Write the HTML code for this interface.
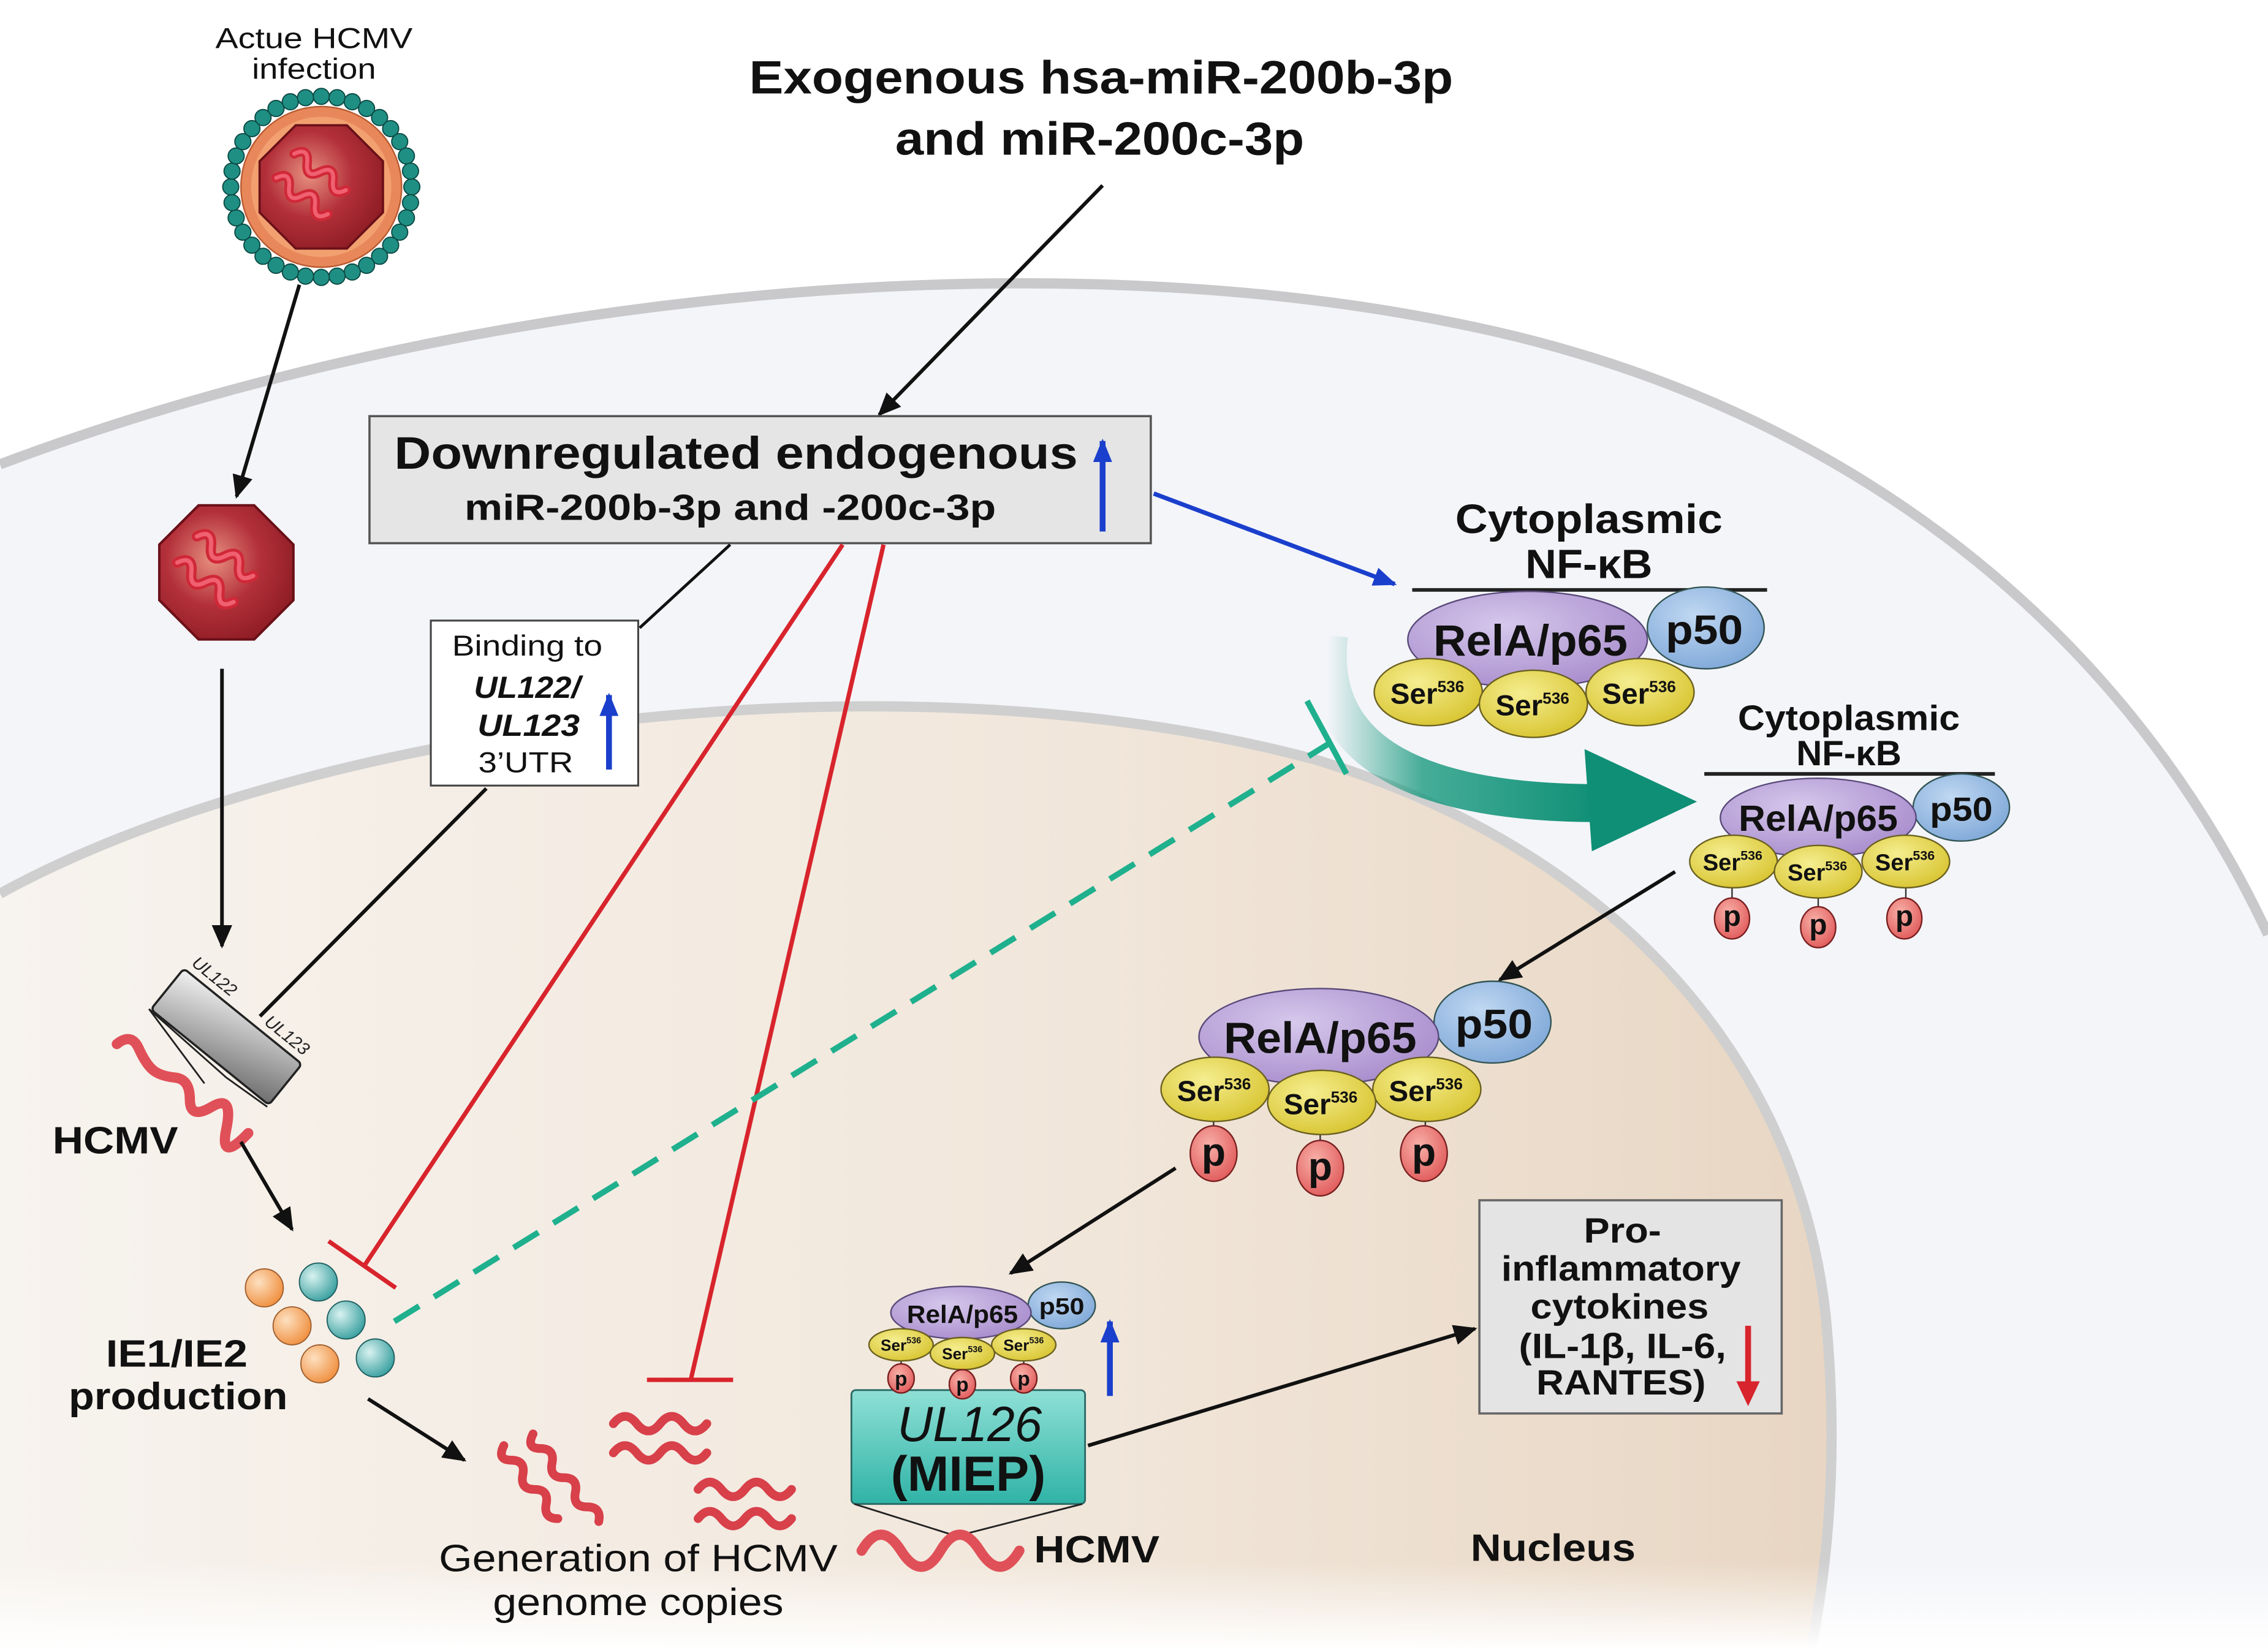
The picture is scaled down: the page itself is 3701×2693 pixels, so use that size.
<!DOCTYPE html>
<html><head><meta charset="utf-8"><style>html,body{margin:0;padding:0;background:#fff}svg{display:block}</style></head>
<body>
<svg xmlns="http://www.w3.org/2000/svg" width="3701" height="2693" viewBox="0 0 1553 1130" preserveAspectRatio="none" font-family="Liberation Sans, Arial, sans-serif">
<defs>
<linearGradient id="nuc" x1="0" y1="0" x2="1" y2="0"><stop offset="0" stop-color="#f7f3ee"/><stop offset="0.6" stop-color="#f1e6da"/><stop offset="1" stop-color="#e8d6c3"/></linearGradient>
<linearGradient id="fade" x1="0" y1="0" x2="0" y2="1"><stop offset="0" stop-color="#fff" stop-opacity="0"/><stop offset="1" stop-color="#fff" stop-opacity="1"/></linearGradient>
<linearGradient id="gene" x1="0" y1="0" x2="1" y2="1"><stop offset="0" stop-color="#f2f2f2"/><stop offset="1" stop-color="#6e6e6e"/></linearGradient>
<linearGradient id="box126" x1="0" y1="0" x2="0" y2="1"><stop offset="0" stop-color="#8fe0d6"/><stop offset="1" stop-color="#2fb3a6"/></linearGradient>
<linearGradient id="garr" x1="0" y1="0" x2="1" y2="0"><stop offset="0" stop-color="#1a9a80" stop-opacity="0"/><stop offset="0.35" stop-color="#1a9a80" stop-opacity="0.8"/><stop offset="1" stop-color="#0f8f75"/></linearGradient>
<radialGradient id="oct" cx="0.4" cy="0.4" r="0.7"><stop offset="0" stop-color="#e89080"/><stop offset="0.5" stop-color="#b3303a"/><stop offset="1" stop-color="#8a1a22"/></radialGradient>
<radialGradient id="purp" cx="0.4" cy="0.35" r="0.7"><stop offset="0" stop-color="#d6c8ec"/><stop offset="1" stop-color="#a88ccc"/></radialGradient>
<radialGradient id="blue" cx="0.4" cy="0.35" r="0.7"><stop offset="0" stop-color="#c0d8f2"/><stop offset="1" stop-color="#7fa8d8"/></radialGradient>
<radialGradient id="yel" cx="0.4" cy="0.35" r="0.7"><stop offset="0" stop-color="#f5ee90"/><stop offset="1" stop-color="#d8c430"/></radialGradient>
<radialGradient id="red" cx="0.4" cy="0.35" r="0.7"><stop offset="0" stop-color="#f8b0a8"/><stop offset="1" stop-color="#e05a5a"/></radialGradient>
<radialGradient id="orb" cx="0.35" cy="0.35" r="0.7"><stop offset="0" stop-color="#fde0c0"/><stop offset="1" stop-color="#f09040"/></radialGradient>
<radialGradient id="tb" cx="0.35" cy="0.35" r="0.7"><stop offset="0" stop-color="#d8f2f0"/><stop offset="1" stop-color="#3aa0a0"/></radialGradient>
<marker id="ak" viewBox="0 0 10 10" refX="9" refY="5" markerWidth="16" markerHeight="14" orient="auto" markerUnits="userSpaceOnUse" preserveAspectRatio="none"><path d="M0,0 L10,5 L0,10 z" fill="#111"/></marker>
<marker id="ab" viewBox="0 0 10 10" refX="9" refY="5" markerWidth="16" markerHeight="13" orient="auto" markerUnits="userSpaceOnUse" preserveAspectRatio="none"><path d="M0,0 L10,5 L0,10 z" fill="#1a3fcc"/></marker>
<g id="sq"><path d="M0,0 q5,-9 10,0 t10,0 t10,0 t10,0" fill="none" stroke="#d02838" stroke-width="6" stroke-linecap="round"/><path d="M0,0 q5,-9 10,0 t10,0 t10,0 t10,0" fill="none" stroke="#f06070" stroke-width="2.5" stroke-linecap="round"/></g>
<g id="octo"><polygon points="-17,-41 17,-41 41,-17 41,17 17,41 -17,41 -41,17 -41,-17" fill="url(#oct)" stroke="#6a1018" stroke-width="1.5"/><use href="#sq" transform="translate(-18,-22) rotate(35) scale(1.05)"/><use href="#sq" transform="translate(-30,-6) rotate(35) scale(1.05)"/></g>
</defs>

<!-- cell -->
<path d="M0,318 C300,205 700,160 1000,222 C1250,272 1450,420 1553,640 L1553,1130 L0,1130 Z" fill="#f4f5f9"/>
<path d="M0,318 C300,205 700,160 1000,222 C1250,272 1450,420 1553,640" fill="none" stroke="#c9c9cb" stroke-width="7"/>
<!-- nucleus -->
<path d="M0,612 C200,502 600,440 900,520 C1100,580 1230,720 1250,900 C1260,1000 1250,1080 1240,1130 L0,1130 Z" fill="url(#nuc)"/>
<path d="M0,612 C200,502 600,440 900,520 C1100,580 1230,720 1250,900 C1260,1000 1250,1080 1240,1130" fill="none" stroke="#cfcfcf" stroke-width="7"/>
<rect x="0" y="1070" width="1553" height="60" fill="url(#fade)"/>

<!-- virion -->
<text x="215" y="33" font-size="20" text-anchor="middle" textLength="135" lengthAdjust="spacingAndGlyphs" fill="#111">Actue HCMV</text>
<text x="215" y="54" font-size="20" text-anchor="middle" textLength="85" lengthAdjust="spacingAndGlyphs" fill="#111">infection</text>
<g transform="translate(220,128)">
<g fill="#1f8f84" stroke="#0c4a44" stroke-width="0.8">
<circle cx="62" cy="0" r="5.5"/><circle cx="61.1" cy="10.8" r="5.5"/><circle cx="58.3" cy="21.2" r="5.5"/><circle cx="53.7" cy="31" r="5.5"/><circle cx="47.5" cy="39.9" r="5.5"/><circle cx="39.9" cy="47.5" r="5.5"/><circle cx="31" cy="53.7" r="5.5"/><circle cx="21.2" cy="58.3" r="5.5"/><circle cx="10.8" cy="61.1" r="5.5"/><circle cx="0" cy="62" r="5.5"/><circle cx="-10.8" cy="61.1" r="5.5"/><circle cx="-21.2" cy="58.3" r="5.5"/><circle cx="-31" cy="53.7" r="5.5"/><circle cx="-39.9" cy="47.5" r="5.5"/><circle cx="-47.5" cy="39.9" r="5.5"/><circle cx="-53.7" cy="31" r="5.5"/><circle cx="-58.3" cy="21.2" r="5.5"/><circle cx="-61.1" cy="10.8" r="5.5"/><circle cx="-62" cy="0" r="5.5"/><circle cx="-61.1" cy="-10.8" r="5.5"/><circle cx="-58.3" cy="-21.2" r="5.5"/><circle cx="-53.7" cy="-31" r="5.5"/><circle cx="-47.5" cy="-39.9" r="5.5"/><circle cx="-39.9" cy="-47.5" r="5.5"/><circle cx="-31" cy="-53.7" r="5.5"/><circle cx="-21.2" cy="-58.3" r="5.5"/><circle cx="-10.8" cy="-61.1" r="5.5"/><circle cx="0" cy="-62" r="5.5"/><circle cx="10.8" cy="-61.1" r="5.5"/><circle cx="21.2" cy="-58.3" r="5.5"/><circle cx="31" cy="-53.7" r="5.5"/><circle cx="39.9" cy="-47.5" r="5.5"/><circle cx="47.5" cy="-39.9" r="5.5"/><circle cx="53.7" cy="-31" r="5.5"/><circle cx="58.3" cy="-21.2" r="5.5"/><circle cx="61.1" cy="-10.8" r="5.5"/>
</g>
<circle r="55" fill="#e8885a" stroke="#b85a30" stroke-width="1"/>
<circle r="48" fill="#f2a070"/>
<use href="#octo" transform="scale(1.03)"/>
</g>
<line x1="205" y1="195" x2="162" y2="340" stroke="#111" stroke-width="2.5" marker-end="url(#ak)"/>
<use href="#octo" transform="translate(155,392) scale(1.12)"/>
<line x1="152" y1="458" x2="152" y2="648" stroke="#111" stroke-width="2.5" marker-end="url(#ak)"/>

<!-- gene -->
<line x1="333" y1="540" x2="178" y2="696" stroke="#111" stroke-width="2.5"/>
<g transform="translate(155,710) rotate(39)">
<rect x="-52" y="-18" width="104" height="36" rx="3" fill="url(#gene)" stroke="#222" stroke-width="1.5"/>
<text x="-50" y="-23" font-size="12" font-style="italic" fill="#222">UL122</text>
<text x="14" y="-23" font-size="12" font-style="italic" fill="#222">UL123</text>
</g>
<path d="M102,691 L155,738 L183,758 M102,691 L140,742" fill="none" stroke="#222" stroke-width="1.2"/>
<path d="M80,715 q10,-8 15,3 t10,15 t15,5 t10,15 t15,5 t10,15 t15,3" fill="none" stroke="#e05058" stroke-width="7" stroke-linecap="round"/>
<text x="36" y="790" font-size="26" font-weight="bold" textLength="86" lengthAdjust="spacingAndGlyphs" fill="#111">HCMV</text>
<line x1="165" y1="782" x2="200" y2="842" stroke="#111" stroke-width="2.5" marker-end="url(#ak)"/>

<!-- IE balls -->
<circle cx="181" cy="882" r="13" fill="url(#orb)" stroke="#a06030" stroke-width="0.8"/>
<circle cx="200" cy="908" r="13" fill="url(#orb)" stroke="#a06030" stroke-width="0.8"/>
<circle cx="219" cy="934" r="13" fill="url(#orb)" stroke="#a06030" stroke-width="0.8"/>
<circle cx="218" cy="878" r="13" fill="url(#tb)" stroke="#206060" stroke-width="0.8"/>
<circle cx="237" cy="904" r="13" fill="url(#tb)" stroke="#206060" stroke-width="0.8"/>
<circle cx="257" cy="930" r="13" fill="url(#tb)" stroke="#206060" stroke-width="0.8"/>
<text x="121" y="936" font-size="26" font-weight="bold" text-anchor="middle" textLength="97" lengthAdjust="spacingAndGlyphs" fill="#111">IE1/IE2</text>
<text x="122" y="965" font-size="26" font-weight="bold" text-anchor="middle" textLength="150" lengthAdjust="spacingAndGlyphs" fill="#111">production</text>
<line x1="252" y1="958" x2="318" y2="1000" stroke="#111" stroke-width="2.5" marker-end="url(#ak)"/>

<!-- genome copies -->
<g fill="none" stroke="#d8404a" stroke-width="6" stroke-linecap="round">
<path d="M345,990 q-5,10 5,10 t8,10 t8,10 t8,10 t8,10"/>
<path d="M365,982 q-5,10 5,10 t8,10 t8,10 t8,10 t8,10 t8,10"/>
<path d="M420,975 q8,-10 16,0 t16,0 t16,0 t16,0"/>
<path d="M420,995 q8,-10 16,0 t16,0 t16,0 t16,0"/>
<path d="M478,1020 q8,-10 16,0 t16,0 t16,0 t16,0"/>
<path d="M478,1040 q8,-10 16,0 t16,0 t16,0 t16,0"/>
</g>
<text x="437" y="1076" font-size="26" text-anchor="middle" textLength="273" lengthAdjust="spacingAndGlyphs" fill="#111">Generation of HCMV</text>
<text x="437" y="1106" font-size="26" text-anchor="middle" textLength="199" lengthAdjust="spacingAndGlyphs" fill="#111">genome copies</text>

<!-- title -->
<text x="754" y="64" font-size="32" font-weight="bold" text-anchor="middle" textLength="482" lengthAdjust="spacingAndGlyphs" fill="#111">Exogenous hsa-miR-200b-3p</text>
<text x="753" y="106" font-size="32" font-weight="bold" text-anchor="middle" textLength="280" lengthAdjust="spacingAndGlyphs" fill="#111">and miR-200c-3p</text>
<line x1="755" y1="127" x2="602" y2="284" stroke="#111" stroke-width="2.5" marker-end="url(#ak)"/>

<!-- main box -->
<rect x="253" y="285" width="535" height="87" fill="#e5e5e5" stroke="#555" stroke-width="1.5"/>
<text x="504" y="321" font-size="31" font-weight="bold" text-anchor="middle" textLength="468" lengthAdjust="spacingAndGlyphs" fill="#111">Downregulated endogenous</text>
<text x="500" y="356" font-size="25" font-weight="bold" text-anchor="middle" textLength="364" lengthAdjust="spacingAndGlyphs" fill="#111">miR-200b-3p and -200c-3p</text>
<line x1="755" y1="364" x2="755" y2="302" stroke="#1a3fcc" stroke-width="4" marker-end="url(#ab)"/>

<!-- binding box -->
<line x1="500" y1="373" x2="438" y2="430" stroke="#111" stroke-width="2"/>
<rect x="295" y="425" width="142" height="113" fill="#fff" stroke="#444" stroke-width="1.3"/>
<text x="361" y="449" font-size="20" text-anchor="middle" textLength="103" lengthAdjust="spacingAndGlyphs" fill="#111">Binding to</text>
<text x="361" y="478" font-size="21" font-weight="bold" font-style="italic" text-anchor="middle" textLength="73" lengthAdjust="spacingAndGlyphs" fill="#111">UL122/</text>
<text x="362" y="504" font-size="21" font-weight="bold" font-style="italic" text-anchor="middle" textLength="70" lengthAdjust="spacingAndGlyphs" fill="#111">UL123</text>
<text x="360" y="529" font-size="20" text-anchor="middle" textLength="65" lengthAdjust="spacingAndGlyphs" fill="#111">3’UTR</text>
<line x1="417" y1="527" x2="417" y2="476" stroke="#1a3fcc" stroke-width="4" marker-end="url(#ab)"/>

<!-- red inhibitors -->
<g stroke="#d8242c" stroke-width="3" fill="none">
<line x1="577" y1="373" x2="250" y2="866"/>
<line x1="225" y1="850" x2="271" y2="882"/>
<path d="M605,373 L473,945"/>
<line x1="443" y1="945" x2="502" y2="945"/>
</g>

<!-- teal dashed -->
<line x1="270" y1="905" x2="912" y2="508" stroke="#1fb08e" stroke-width="4" stroke-dasharray="20,12"/>
<line x1="895" y1="480" x2="922" y2="530" stroke="#1fb08e" stroke-width="4"/>

<!-- blue arrow -->
<line x1="790" y1="338" x2="955" y2="400" stroke="#1a3fcc" stroke-width="3" marker-end="url(#ab)"/>

<!-- green curved arrow -->
<path d="M910,435 C900,520 980,550 1095,550" fill="none" stroke="url(#garr)" stroke-width="26"/>
<polygon points="1085,513 1162,549 1090,583" fill="#0f8f75"/>

<!-- NF-kB complex 1 -->
<text x="1088" y="365" font-size="28" font-weight="bold" text-anchor="middle" textLength="183" lengthAdjust="spacingAndGlyphs" fill="#111">Cytoplasmic</text>
<text x="1088" y="396" font-size="28" font-weight="bold" text-anchor="middle" textLength="87" lengthAdjust="spacingAndGlyphs" fill="#111">NF-κB</text>
<line x1="967" y1="404" x2="1210" y2="404" stroke="#222" stroke-width="2.5"/>
<ellipse cx="1168" cy="430" rx="40" ry="28" fill="url(#blue)" stroke="#355" stroke-width="1"/>
<ellipse cx="1046" cy="438" rx="82" ry="33" fill="url(#purp)" stroke="#5a4a7a" stroke-width="1"/>
<text x="1167" y="441" font-size="28" font-weight="bold" text-anchor="middle" textLength="53" lengthAdjust="spacingAndGlyphs" fill="#111">p50</text>
<text x="1048" y="449" font-size="30" font-weight="bold" text-anchor="middle" textLength="133" lengthAdjust="spacingAndGlyphs" fill="#111">RelA/p65</text>
<g font-weight="bold" fill="#111">
<ellipse cx="978" cy="474" rx="37" ry="23" fill="url(#yel)" stroke="#6a6020" stroke-width="1"/>
<ellipse cx="1123" cy="474" rx="37" ry="23" fill="url(#yel)" stroke="#6a6020" stroke-width="1"/>
<ellipse cx="1050" cy="482" rx="37" ry="23" fill="url(#yel)" stroke="#6a6020" stroke-width="1"/>
<text x="952" y="482" font-size="20">Ser<tspan font-size="11" dy="-8">536</tspan></text>
<text x="1024" y="490" font-size="20">Ser<tspan font-size="11" dy="-8">536</tspan></text>
<text x="1097" y="482" font-size="20">Ser<tspan font-size="11" dy="-8">536</tspan></text>
</g>

<!-- NF-kB complex 2 -->
<text x="1266" y="500" font-size="24" font-weight="bold" text-anchor="middle" textLength="152" lengthAdjust="spacingAndGlyphs" fill="#111">Cytoplasmic</text>
<text x="1266" y="524" font-size="24" font-weight="bold" text-anchor="middle" textLength="72" lengthAdjust="spacingAndGlyphs" fill="#111">NF-κB</text>
<line x1="1167" y1="530" x2="1366" y2="530" stroke="#222" stroke-width="2.5"/>
<ellipse cx="1343" cy="553" rx="33" ry="23" fill="url(#blue)" stroke="#355" stroke-width="1"/>
<ellipse cx="1245" cy="560" rx="67" ry="27" fill="url(#purp)" stroke="#5a4a7a" stroke-width="1"/>
<text x="1343" y="562" font-size="23" font-weight="bold" text-anchor="middle" textLength="43" lengthAdjust="spacingAndGlyphs" fill="#111">p50</text>
<text x="1245" y="569" font-size="25" font-weight="bold" text-anchor="middle" textLength="109" lengthAdjust="spacingAndGlyphs" fill="#111">RelA/p65</text>
<g stroke="#333" stroke-width="1"><line x1="1186" y1="600" x2="1186" y2="620"/><line x1="1245" y1="607" x2="1245" y2="625"/><line x1="1305" y1="600" x2="1305" y2="620"/></g>
<g fill="url(#yel)" stroke="#6a6020" stroke-width="1">
<ellipse cx="1187" cy="590" rx="30" ry="18"/><ellipse cx="1305" cy="590" rx="30" ry="18"/><ellipse cx="1245" cy="597" rx="30" ry="18"/></g>
<g font-weight="bold" fill="#111" font-size="16">
<text x="1166" y="596">Ser<tspan font-size="9" dy="-7">536</tspan></text>
<text x="1224" y="603">Ser<tspan font-size="9" dy="-7">536</tspan></text>
<text x="1284" y="596">Ser<tspan font-size="9" dy="-7">536</tspan></text></g>
<g fill="url(#red)" stroke="#7a2020" stroke-width="1">
<ellipse cx="1186" cy="629" rx="12" ry="14"/><ellipse cx="1245" cy="635" rx="12" ry="14"/><ellipse cx="1304" cy="629" rx="12" ry="14"/></g>
<g font-weight="bold" fill="#111" font-size="20" text-anchor="middle">
<text x="1186" y="634">p</text><text x="1245" y="640">p</text><text x="1304" y="634">p</text></g>
<line x1="1147" y1="597" x2="1027" y2="671" stroke="#111" stroke-width="2.5" marker-end="url(#ak)"/>

<!-- complex 3 -->
<ellipse cx="1022" cy="700" rx="40" ry="28" fill="url(#blue)" stroke="#355" stroke-width="1"/>
<ellipse cx="903" cy="710" rx="82" ry="33" fill="url(#purp)" stroke="#5a4a7a" stroke-width="1"/>
<text x="1023" y="711" font-size="28" font-weight="bold" text-anchor="middle" textLength="53" lengthAdjust="spacingAndGlyphs" fill="#111">p50</text>
<text x="904" y="721" font-size="30" font-weight="bold" text-anchor="middle" textLength="132" lengthAdjust="spacingAndGlyphs" fill="#111">RelA/p65</text>
<g stroke="#333" stroke-width="1"><line x1="831" y1="760" x2="831" y2="775"/><line x1="904" y1="770" x2="904" y2="785"/><line x1="976" y1="760" x2="976" y2="775"/></g>
<g fill="url(#yel)" stroke="#6a6020" stroke-width="1">
<ellipse cx="832" cy="746" rx="37" ry="22"/><ellipse cx="977" cy="746" rx="37" ry="22"/><ellipse cx="905" cy="755" rx="37" ry="22"/></g>
<g font-weight="bold" fill="#111" font-size="20">
<text x="806" y="754">Ser<tspan font-size="11" dy="-8">536</tspan></text>
<text x="879" y="763">Ser<tspan font-size="11" dy="-8">536</tspan></text>
<text x="951" y="754">Ser<tspan font-size="11" dy="-8">536</tspan></text></g>
<g fill="url(#red)" stroke="#7a2020" stroke-width="1">
<ellipse cx="831" cy="790" rx="16" ry="19"/><ellipse cx="904" cy="800" rx="16" ry="19"/><ellipse cx="975" cy="790" rx="16" ry="19"/></g>
<g font-weight="bold" fill="#111" font-size="27" text-anchor="middle">
<text x="831" y="798">p</text><text x="904" y="808">p</text><text x="975" y="798">p</text></g>
<line x1="805" y1="800" x2="692" y2="872" stroke="#111" stroke-width="2.5" marker-end="url(#ak)"/>

<!-- UL126 box -->
<rect x="583" y="952" width="160" height="78" rx="3" fill="url(#box126)" stroke="#2a6a66" stroke-width="1.2"/>
<text x="664" y="987" font-size="34" font-style="italic" text-anchor="middle" textLength="99" lengthAdjust="spacingAndGlyphs" fill="#111">UL126</text>
<text x="663" y="1021" font-size="34" font-weight="bold" text-anchor="middle" textLength="106" lengthAdjust="spacingAndGlyphs" fill="#111">(MIEP)</text>

<!-- small complex -->
<ellipse cx="727" cy="894" rx="23" ry="16" fill="url(#blue)" stroke="#355" stroke-width="1"/>
<ellipse cx="658" cy="899" rx="48" ry="18" fill="url(#purp)" stroke="#5a4a7a" stroke-width="1"/>
<text x="727" y="900" font-size="16" font-weight="bold" text-anchor="middle" textLength="31" lengthAdjust="spacingAndGlyphs" fill="#111">p50</text>
<text x="659" y="906" font-size="17" font-weight="bold" text-anchor="middle" textLength="76" lengthAdjust="spacingAndGlyphs" fill="#111">RelA/p65</text>
<g stroke="#333" stroke-width="1"><line x1="617" y1="930" x2="617" y2="938"/><line x1="659" y1="936" x2="659" y2="942"/><line x1="701" y1="930" x2="701" y2="938"/></g>
<g fill="url(#yel)" stroke="#6a6020" stroke-width="1">
<ellipse cx="617" cy="921" rx="22" ry="11"/><ellipse cx="701" cy="921" rx="22" ry="11"/><ellipse cx="659" cy="927" rx="22" ry="11"/></g>
<g font-weight="bold" fill="#111" font-size="11">
<text x="603" y="925">Ser<tspan font-size="6" dy="-5">536</tspan></text>
<text x="645" y="931">Ser<tspan font-size="6" dy="-5">536</tspan></text>
<text x="687" y="925">Ser<tspan font-size="6" dy="-5">536</tspan></text></g>
<g fill="url(#red)" stroke="#7a2020" stroke-width="1">
<ellipse cx="617" cy="944" rx="9" ry="10"/><ellipse cx="659" cy="948" rx="9" ry="10"/><ellipse cx="701" cy="944" rx="9" ry="10"/></g>
<g font-weight="bold" fill="#111" font-size="14" text-anchor="middle">
<text x="617" y="949">p</text><text x="659" y="953">p</text><text x="701" y="949">p</text></g>
<line x1="760" y1="956" x2="760" y2="905" stroke="#1a3fcc" stroke-width="4" marker-end="url(#ab)"/>

<path d="M585,1030 L655,1052 L741,1030" fill="none" stroke="#222" stroke-width="1.2"/>
<path d="M590,1062 q13,-22 27,0 t27,0 t27,0 t27,0" fill="none" stroke="#e05058" stroke-width="7" stroke-linecap="round"/>
<text x="708" y="1070" font-size="26" font-weight="bold" textLength="86" lengthAdjust="spacingAndGlyphs" fill="#111">HCMV</text>
<line x1="745" y1="990" x2="1010" y2="910" stroke="#111" stroke-width="2.5" marker-end="url(#ak)"/>

<!-- cytokines box -->
<rect x="1013" y="822" width="207" height="146" fill="#e4e4e4" stroke="#666" stroke-width="1.5"/>
<g font-size="24" font-weight="bold" text-anchor="middle" fill="#111">
<text x="1111" y="851" textLength="53" lengthAdjust="spacingAndGlyphs">Pro-</text>
<text x="1110" y="877" textLength="164" lengthAdjust="spacingAndGlyphs">inflammatory</text>
<text x="1109" y="903" textLength="122" lengthAdjust="spacingAndGlyphs">cytokines</text>
<text x="1111" y="930" textLength="142" lengthAdjust="spacingAndGlyphs">(IL-1β, IL-6,</text>
<text x="1110" y="955" textLength="116" lengthAdjust="spacingAndGlyphs">RANTES)</text></g>
<line x1="1197" y1="908" x2="1197" y2="952" stroke="#d8242c" stroke-width="4"/>
<polygon points="1189,946 1205,946 1197,963" fill="#d8242c"/>

<text x="1007" y="1069" font-size="26" font-weight="bold" textLength="113" lengthAdjust="spacingAndGlyphs" fill="#111">Nucleus</text>
</svg>
</body></html>
